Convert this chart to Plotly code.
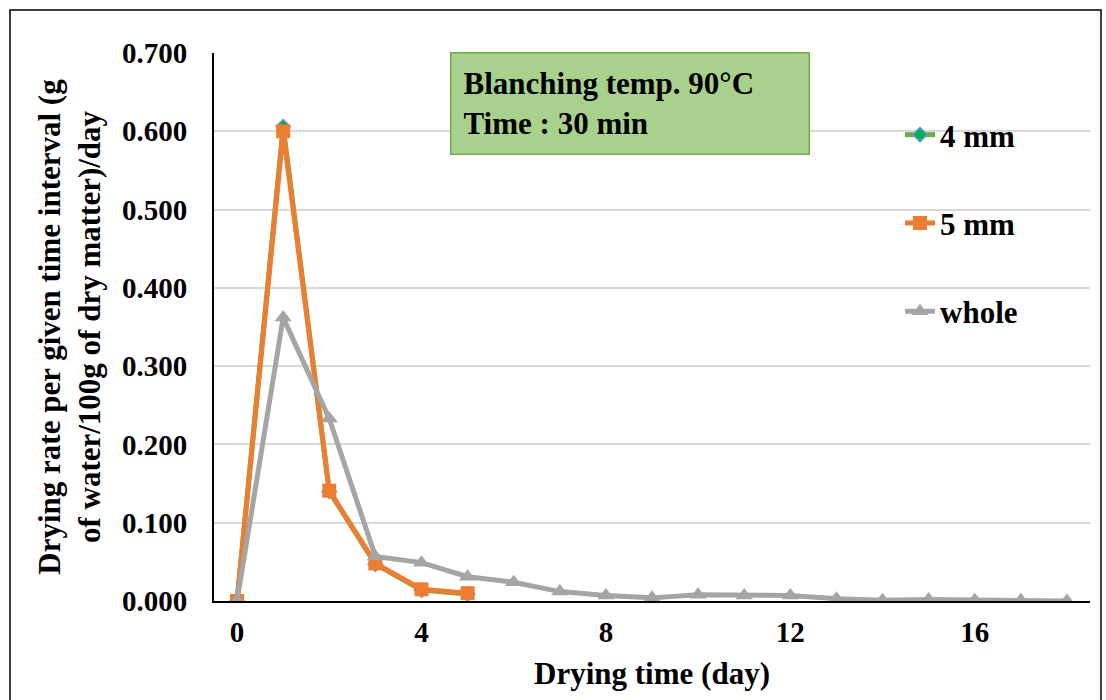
import plotly.graph_objects as go

days = list(range(0, 19))
days_short = [0, 1, 2, 3, 4, 5]
mm4 = [0.000, 0.606, 0.140, 0.047, 0.014, 0.009]
mm5 = [0.000, 0.600, 0.141, 0.048, 0.015, 0.010]
whole = [0.000, 0.362, 0.233, 0.057, 0.049, 0.031, 0.024, 0.012, 0.007, 0.004,
         0.008, 0.007, 0.007, 0.003, 0.001, 0.002, 0.001, 0.001, 0.000]
x_ticks = [0, 4, 8, 12, 16]
y_ticks = [0.0, 0.1, 0.2, 0.3, 0.4, 0.5, 0.6, 0.7]

FONT = "Liberation Serif"
L, R, T, B = 214, 1090, 53, 601
PW, PH = R - L, B - T


def px(xp):
    return (xp - L) / PW


def py(yp):
    return (B - yp) / PH


fig = go.Figure()
fig.add_trace(go.Scatter(
    x=days_short, y=mm4, name="4 mm", mode="lines+markers",
    line=dict(color="#70ad47", width=5),
    marker=dict(symbol="diamond", size=11, color="#00b050",
                line=dict(color="#5b9bd5", width=1.5)),
    legendgroup="a"))
fig.add_trace(go.Scatter(
    x=days_short, y=mm5, name="5 mm", mode="lines+markers",
    line=dict(color="#ed7d31", width=5),
    marker=dict(symbol="square", size=14, color="#ed7d31"),
    legendgroup="b"))
fig.add_trace(go.Scatter(
    x=days, y=whole, name="whole", mode="lines+markers",
    line=dict(color="#a5a5a5", width=5),
    marker=dict(symbol="triangle-up", size=15, color="#a5a5a5"),
    legendgroup="c"))

# outer frame
fig.add_shape(type="rect", xref="paper", yref="paper",
              x0=px(10), x1=px(1101), y0=py(712), y1=py(10),
              line=dict(color="black", width=1.5), layer="below")

# annotation box
fig.add_annotation(
    xref="paper", yref="paper",
    x=px(450), y=py(52),
    xanchor="left", yanchor="top",
    text="Blanching temp. 90°C<br>Time : 30 min",
    align="left", showarrow=False,
    font=dict(family=FONT, size=31, color="black", weight="bold"),
    bgcolor="#a9d18e", bordercolor="#70ad47", borderwidth=1.5,
    borderpad=12, width=333, height=76, valign="middle")

fig.update_layout(
    width=1106, height=700,
    margin=dict(l=L, r=1106 - R, t=T, b=700 - B, autoexpand=False),
    paper_bgcolor="white", plot_bgcolor="white",
    font=dict(family=FONT, size=29, color="black"),
    showlegend=True,
    legend=dict(x=px(900), y=py(108),
                xanchor="left", yanchor="top",
                tracegroupgap=45, traceorder="grouped",
                bgcolor="rgba(0,0,0,0)",
                font=dict(family=FONT, size=31, color="black", weight="bold")),
    xaxis=dict(range=[-0.5, 18.5], tickvals=x_ticks, showgrid=False,
               showline=True, linecolor="black", linewidth=2,
               ticks="", zeroline=False, automargin=False,
               ticklabelstandoff=4,
               tickfont=dict(family=FONT, size=29, weight="bold"),
               title=dict(text="Drying time (day)", standoff=16,
                          font=dict(family=FONT, size=31, weight="bold"))),
    yaxis=dict(range=[0, 0.7], tickvals=y_ticks, tickformat=".3f",
               showgrid=True, gridcolor="#d9d9d9", gridwidth=2,
               showline=True, linecolor="black", linewidth=2,
               ticks="", zeroline=False, automargin=False,
               ticklabelstandoff=19,
               tickfont=dict(family=FONT, size=29, weight="bold"),
               title=dict(text="Drying rate per given time interval (g<br>of water/100g of dry matter)/day",
                          standoff=12,
                          font=dict(family=FONT, size=31, weight="bold"))),
)

fig.write_html("out.html", config={"displayModeBar": False},
               post_script="document.body.style.margin='0';")
